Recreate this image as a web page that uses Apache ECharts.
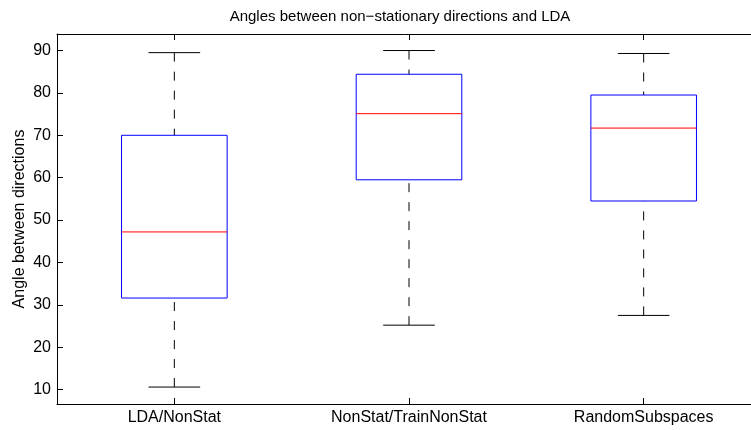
<!DOCTYPE html>
<html>
<head>
<meta charset="utf-8">
<script src="https://cdn.jsdelivr.net/npm/echarts@6/dist/echarts.min.js"></script>
<style>
  html, body { margin: 0; padding: 0; background: #fff; }
  #main { width: 751px; height: 430px; }
</style>
</head>
<body>
<div id="main"></div>
<script>
// box plot data
var categories = ['LDA/NonStat', 'NonStat/TrainNonStat', 'RandomSubspaces'];
var lowWhisker = [10.6, 25.2, 27.5];
var q1 = [31.6, 59.5, 54.5];
var median = [47.2, 75.1, 71.7];
var q3 = [70.0, 84.4, 79.5];
var highWhisker = [89.5, 90.0, 89.3];

var boxData = categories.map(function (c, i) {
  return [i, lowWhisker[i], q1[i], median[i], q3[i], highWhisker[i]];
});

var font = 'Liberation Sans, Arial, Helvetica, sans-serif';

function renderBox(params, api) {
  var idx = api.value(0);
  var band = api.size([1, 0])[0];
  var halfBox = band * 0.225;
  var halfCap = band * 0.11;
  var pLow = api.coord([idx, api.value(1)]);
  var pQ1 = api.coord([idx, api.value(2)]);
  var pMed = api.coord([idx, api.value(3)]);
  var pQ3 = api.coord([idx, api.value(4)]);
  var pHigh = api.coord([idx, api.value(5)]);
  var x = pMed[0];
  var dash = { stroke: '#000', lineWidth: 1, lineDash: [9, 10] };
  var solid = { stroke: '#000', lineWidth: 1 };
  return {
    type: 'group',
    children: [
      { type: 'line', shape: { x1: x, y1: pHigh[1], x2: x, y2: pQ3[1] }, style: dash },
      { type: 'line', shape: { x1: x, y1: pLow[1], x2: x, y2: pQ1[1] }, style: dash },
      { type: 'line', shape: { x1: x - halfCap, y1: pHigh[1], x2: x + halfCap, y2: pHigh[1] }, style: solid },
      { type: 'line', shape: { x1: x - halfCap, y1: pLow[1], x2: x + halfCap, y2: pLow[1] }, style: solid },
      {
        type: 'rect',
        shape: { x: x - halfBox, y: pQ3[1], width: halfBox * 2, height: pQ1[1] - pQ3[1] },
        style: { fill: 'none', stroke: '#0000ff', lineWidth: 1 }
      },
      { type: 'line', shape: { x1: x - halfBox, y1: pMed[1], x2: x + halfBox, y2: pMed[1] }, style: { stroke: '#ff0000', lineWidth: 1 } }
    ]
  };
}

var chart = echarts.init(document.getElementById('main'));
chart.setOption({
  animation: false,
  title: {
    text: 'Angles between non\u2212stationary directions and LDA',
    left: 395,
    top: 4,
    textAlign: 'center',
    textStyle: { fontFamily: font, fontSize: 15, fontWeight: 'normal', color: '#000' }
  },
  grid: { left: 57, top: 34, bottom: 26, width: 704, outerBoundsMode: 'none', containLabel: false },
  xAxis: [
    {
      type: 'category',
      data: categories,
      boundaryGap: true,
      axisLine: { lineStyle: { color: '#000', width: 1 } },
      axisTick: { show: true, inside: true, alignWithLabel: true, length: 6, lineStyle: { color: '#000' } },
      axisLabel: { color: '#000', fontFamily: font, fontSize: 16, margin: 6 },
      splitLine: { show: false }
    },
    {
      type: 'category',
      data: categories,
      position: 'top',
      boundaryGap: true,
      axisLine: { lineStyle: { color: '#000', width: 1 } },
      axisTick: { show: true, inside: true, alignWithLabel: true, length: 6, lineStyle: { color: '#000' } },
      axisLabel: { show: false },
      splitLine: { show: false }
    }
  ],
  yAxis: {
    type: 'value',
    min: 6.6,
    max: 93.9,
    splitNumber: 9,
    name: 'Angle between directions',
    nameLocation: 'middle',
    nameRotate: 90,
    nameGap: 29,
    nameMoveOverlap: false,
    nameTextStyle: { color: '#000', fontFamily: font, fontSize: 16 },
    axisLine: { show: true, lineStyle: { color: '#000', width: 1 } },
    axisTick: { show: true, inside: true, length: 6, lineStyle: { color: '#000' } },
    axisLabel: {
      color: '#000', fontFamily: font, fontSize: 16, margin: 6,
      showMinLabel: false, showMaxLabel: false,
      formatter: function (v) { return Math.abs(v % 10) < 1e-6 ? String(v) : ''; }
    },
    splitLine: { show: false }
  },
  series: [{
    type: 'custom',
    renderItem: renderBox,
    data: boxData,
    encode: { x: 0, y: [1, 2, 3, 4, 5] }
  }]
});
</script>
</body>
</html>
